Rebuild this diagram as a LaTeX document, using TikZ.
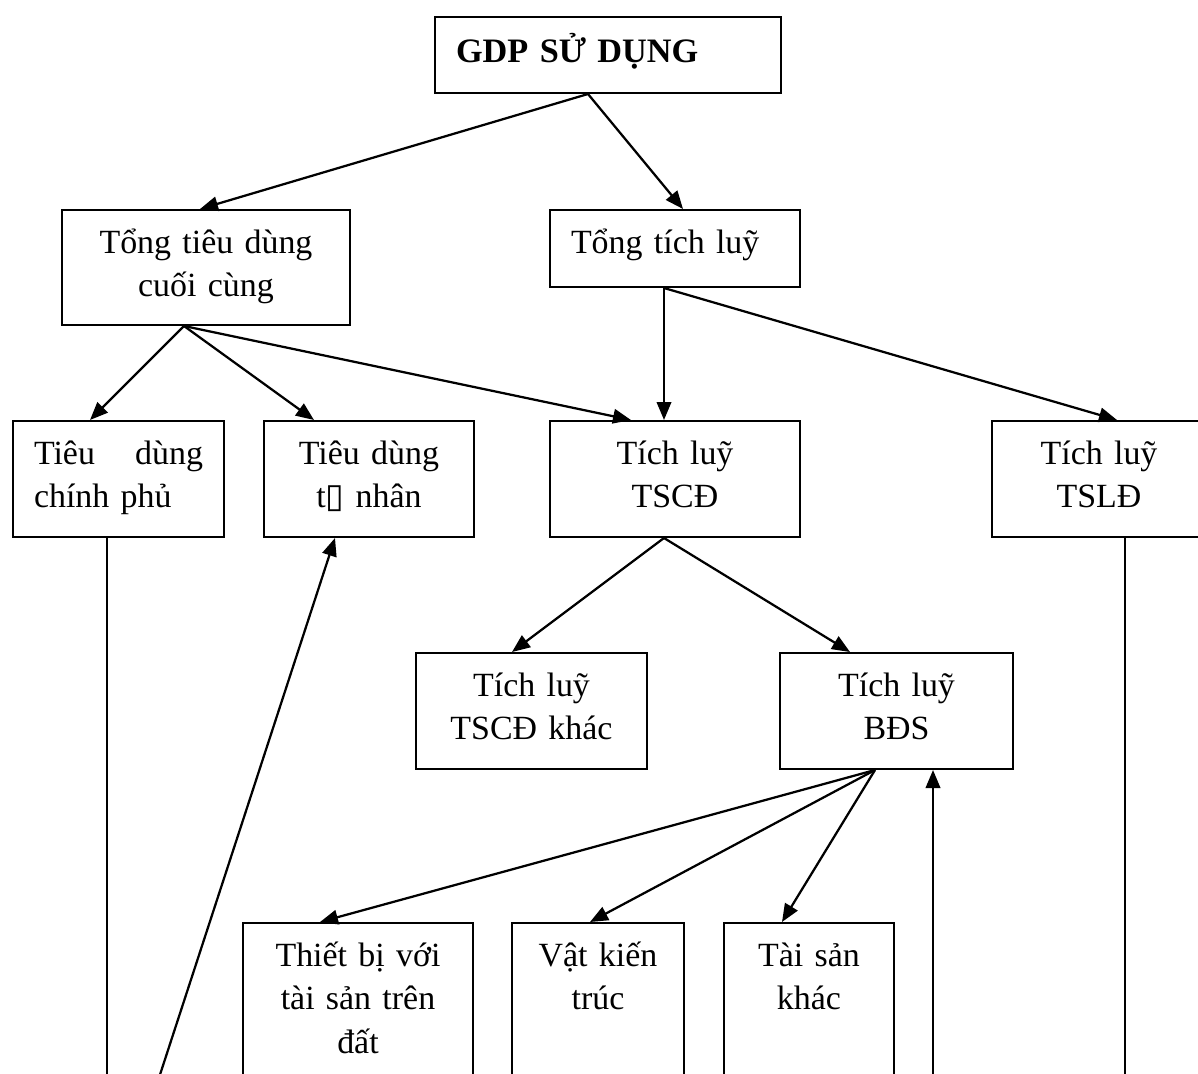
\documentclass[tikz,border=0pt]{standalone}
\usepackage{fontspec}
\setmainfont{Liberation Serif}
\newfontfamily\symfont{DejaVu Sans}
\usetikzlibrary{arrows.meta,calc}

\begin{document}
\begin{tikzpicture}[x=0.2mm,y=-0.2mm,>={Triangle[length=3.6mm,width=2.9mm]},
				font=\fontsize{19.3}{25}\selectfont,
				box/.style={draw, line width=0.4mm, anchor=north west, align=center, inner xsep=4.2mm, inner ysep=0pt, text height=8.6mm, text depth=14.6mm},
				link/.style={->, line width=0.45mm},
				plain/.style={line width=0.45mm}
			]
			\path[use as bounding box, clip] (0,0) rectangle (1198,1074);
			
			\node[box, text width=60.8mm, align=left, text height=9.2mm, text depth=6mm, font=\fontsize{19.5}{25}\selectfont\bfseries] (gdp) at (434,16) {GDP SỬ DỤNG};
			
			\node[box, text width=49.2mm, text depth=14.4mm] (tong_td) at (61,209) {Tổng tiêu dùng\\cuối cùng};
			\node[box, text width=41.6mm, align=left, text depth=6.8mm] (tong_tl) at (549,209) {Tổng tích luỹ};
			
			\node[box, text width=33.8mm, align=left] (td_cp) at (12,420) {Tiêu\hfill dùng\\chính phủ};
			\node[box, text width=33.6mm] (td_tn) at (263,420) {Tiêu dùng\\t{\symfont ▯} nhân};
			\node[box, text width=41.6mm] (tl_cd) at (549,420) {Tích luỹ\\TSCĐ};
			\node[box, text width=34.4mm] (tl_ld) at (991,420) {Tích luỹ\\TSLĐ};
			
			\node[box, text width=37.8mm] (tl_khac) at (415,652) {Tích luỹ\\TSCĐ khác};
			\node[box, text width=38.2mm] (tl_bds) at (779,652) {Tích luỹ\\BĐS};
			
			\node[box, text width=37.6mm, text depth=40mm] (tb) at (242,922) {Thiết bị với\\tài sản trên\\đất};
			\node[box, text width=26mm, text depth=40mm] (vkt) at (511,922) {Vật kiến\\trúc};
			\node[box, text width=25.6mm, text depth=40mm] (tsk) at (723,922) {Tài sản\\khác};
			
			% free ends below the page
			\coordinate (end_cp) at (107,1090);
			\coordinate (start_tn) at (155,1090);
			\coordinate (start_bds) at (933,1090);
			\coordinate (end_ld) at (1125,1090);
			
			\draw[link] ($(gdp.south west)+(154,0)$) -- ($(tong_td.north west)+(139,0)$);
			\draw[link] ($(gdp.south west)+(154,0)$) -- ($(tong_tl.north west)+(134,0)$);
			
			\draw[link] ($(tong_td.south west)+(123,0)$) -- ($(td_cp.north west)+(78,0)$);
			\draw[link] ($(tong_td.south west)+(123,0)$) -- ($(td_tn.north west)+(51,0)$);
			\draw[link] ($(tong_td.south west)+(123,0)$) -- ($(tl_cd.north west)+(82,0)$);
			
			\draw[link] ($(tong_tl.south west)+(115,0)$) -- ($(tl_cd.north west)+(115,0)$);
			\draw[link] ($(tong_tl.south west)+(115,0)$) -- ($(tl_ld.north west)+(126,0)$);
			
			\draw[link] ($(tl_cd.south west)+(115,0)$) -- ($(tl_khac.north west)+(97,0)$);
			\draw[link] ($(tl_cd.south west)+(115,0)$) -- ($(tl_bds.north west)+(71,0)$);
			
			\draw[link] ($(tl_bds.south west)+(96,0)$) -- ($(tb.north west)+(78,0)$);
			\draw[link] ($(tl_bds.south west)+(96,0)$) -- ($(vkt.north west)+(79,0)$);
			\draw[link] ($(tl_bds.south west)+(96,0)$) -- ($(tsk.north west)+(59,0)$);
			
			\draw[plain] ($(td_cp.south west)+(95,0)$) -- (end_cp);
			\draw[link] (start_tn) -- ($(td_tn.south west)+(72,0)$);
			\draw[link] (start_bds) -- ($(tl_bds.south west)+(154,0)$);
			\draw[plain] ($(tl_ld.south west)+(134,0)$) -- (end_ld);
		\end{tikzpicture}
\end{document}
